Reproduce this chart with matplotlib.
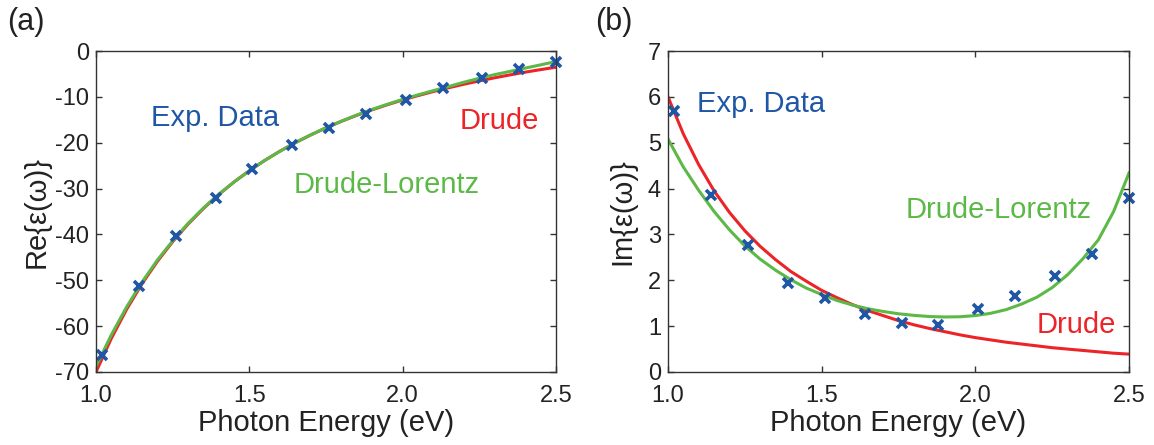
import matplotlib
matplotlib.use("Agg")
import matplotlib.pyplot as plt

plt.rcParams["font.family"] = ["Liberation Sans", "DejaVu Sans"]
plt.rcParams["axes.unicode_minus"] = False

# measured points (photon energy in eV)
exp_energy = [1.02, 1.14, 1.26, 1.39, 1.51, 1.64, 1.76, 1.88, 2.01, 2.13, 2.26, 2.38, 2.50]
exp_re = [-66.3, -51.2, -40.3, -32.1, -25.8, -20.6, -16.8, -13.7, -10.6, -8.1, -5.8, -3.9, -2.3]
exp_im = [5.70, 3.86, 2.78, 1.93, 1.62, 1.27, 1.06, 1.03, 1.37, 1.66, 2.10, 2.57, 3.80]

# fitted curves
fit_energy = [1.00, 1.05, 1.10, 1.15, 1.20, 1.25, 1.30, 1.35, 1.40, 1.45, 1.50,
              1.55, 1.60, 1.65, 1.70, 1.75, 1.80, 1.85, 1.90, 1.95, 2.00,
              2.05, 2.10, 2.15, 2.20, 2.25, 2.30, 2.35, 2.40, 2.45, 2.50]
drude_re = [-69.99, -62.67, -56.32, -50.77, -45.89, -41.59, -37.77, -34.37, -31.32, -28.58, -26.11,
            -23.87, -21.84, -19.99, -18.31, -16.76, -15.34, -14.03, -12.83, -11.72, -10.68,
            -9.73, -8.84, -8.01, -7.24, -6.52, -5.84, -5.21, -4.61, -4.06, -3.53]
drude_im = [6.00, 5.19, 4.52, 3.95, 3.48, 3.08, 2.74, 2.45, 2.19, 1.98, 1.78,
            1.62, 1.47, 1.34, 1.23, 1.12, 1.03, 0.95, 0.88, 0.81, 0.75,
            0.70, 0.65, 0.61, 0.57, 0.53, 0.50, 0.47, 0.44, 0.41, 0.39]
dl_re = [-68.8, -61.9, -55.8, -50.4, -45.6, -41.4, -37.6, -34.25, -31.25, -28.55, -26.1,
         -23.87, -21.85, -20.0, -18.3, -16.74, -15.3, -13.97, -12.75, -11.62, -10.55,
         -9.57, -8.64, -7.75, -6.8, -5.95, -5.15, -4.45, -3.72, -3.02, -2.3]
dl_im = [5.08, 4.47, 3.96, 3.50, 3.10, 2.75, 2.46, 2.22, 2.01, 1.83, 1.69,
         1.56, 1.46, 1.38, 1.32, 1.27, 1.235, 1.21, 1.20, 1.205, 1.23,
         1.28, 1.36, 1.48, 1.63, 1.84, 2.12, 2.47, 2.88, 3.50, 4.34]

x_ticks = [1.0, 1.5, 2.0, 2.5]
x_ticklabels = ["1.0", "1.5", "2.0", "2.5"]
re_ticks = [0, -10, -20, -30, -40, -50, -60, -70]
im_ticks = [0, 1, 2, 3, 4, 5, 6, 7]

blue = "#1f56a5"
red = "#ec2327"
green = "#5cb947"

fig = plt.figure(figsize=(11.54, 4.45), dpi=100)
ax1 = fig.add_axes([96 / 1154, 73 / 445, 460 / 1154, 321 / 445])
ax2 = fig.add_axes([668 / 1154, 73 / 445, 461 / 1154, 321 / 445])

for ax in (ax1, ax2):
    for s in ax.spines.values():
        s.set_color("#333333")
        s.set_linewidth(1.0)
    ax.tick_params(direction="in", top=True, right=True, length=4, width=1,
                   color="#333333", labelsize=17, labelcolor="#222222")
    ax.tick_params(axis="y", pad=5)
    ax.tick_params(axis="x", pad=9)
    ax.set_xlim(1.0, 2.5)
    ax.set_xticks(x_ticks)
    ax.set_xticklabels(x_ticklabels)
    ax.set_xlabel("Photon Energy (eV)", fontsize=21, color="#222222", labelpad=2)

# (a) real part
ax1.plot(fit_energy, drude_re, color=red, lw=2.2)
ax1.plot(fit_energy, dl_re, color=green, lw=2.2)
ax1.plot(exp_energy, exp_re, ls="none", marker="x", ms=7, mew=2.6, color=blue, clip_on=False)
ax1.set_ylim(-70, 0)
ax1.set_yticks(re_ticks)
ax1.set_yticklabels([str(t) for t in re_ticks])
ax1.set_ylabel("Re{ε(ω)}", fontsize=21, color="#222222", labelpad=3)
ax1.text(1.18, -14.7, "Exp. Data", color=blue, fontsize=21, va="center")
ax1.text(2.186, -15.2, "Drude", color=red, fontsize=21, va="center")
ax1.text(1.644, -29.2, "Drude-Lorentz", color=green, fontsize=21, va="center")

# (b) imaginary part
ax2.plot(fit_energy, drude_im, color=red, lw=2.2)
ax2.plot(fit_energy, dl_im, color=green, lw=2.2)
ax2.plot(exp_energy, exp_im, ls="none", marker="x", ms=7, mew=2.6, color=blue, clip_on=False)
ax2.set_ylim(0, 7)
ax2.set_yticks(im_ticks)
ax2.set_yticklabels([str(t) for t in im_ticks])
ax2.set_ylabel("Im{ε(ω)}", fontsize=21, color="#222222", labelpad=8)
ax2.text(1.093, 5.84, "Exp. Data", color=blue, fontsize=21, va="center")
ax2.text(1.773, 3.53, "Drude-Lorentz", color=green, fontsize=21, va="center")
ax2.text(2.20, 1.03, "Drude", color=red, fontsize=21, va="center")

fig.text(7 / 1154, 1 - 22 / 445, "(a)", fontsize=22, va="center", color="#222222")
fig.text(595 / 1154, 1 - 22 / 445, "(b)", fontsize=22, va="center", color="#222222")

fig.savefig("out.png", dpi=100)
